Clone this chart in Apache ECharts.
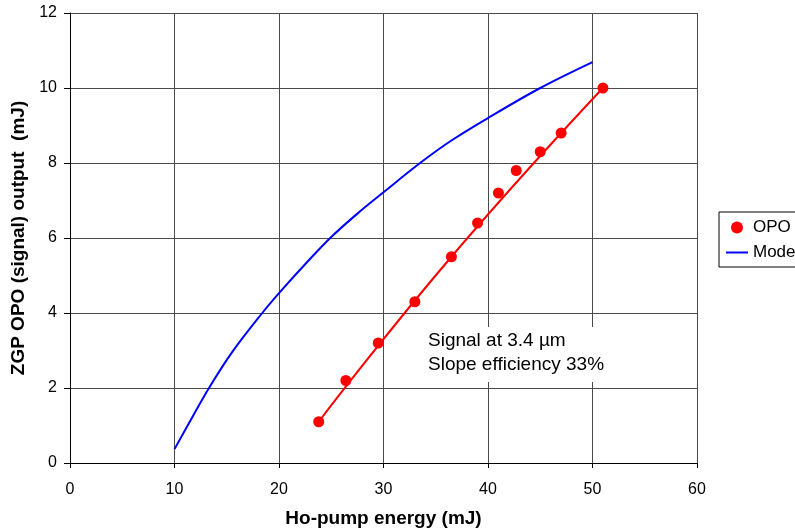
<!DOCTYPE html>
<html>
<head>
<meta charset="utf-8">
<script src="https://cdn.jsdelivr.net/npm/echarts@6/dist/echarts.min.js"></script>
<style>
html,body{margin:0;padding:0;background:#fff;}
#chart{width:795px;height:529px;}
</style>
</head>
<body>
<div id="chart"></div>
<script>
// Measured OPO data
const energyOPO = [23.8, 26.4, 29.5, 33.0, 36.5, 39.0, 41.0, 42.7, 45.0, 47.0, 51.0];
const outputOPO = [1.1, 2.2, 3.2, 4.3, 5.5, 6.4, 7.2, 7.8, 8.3, 8.8, 10.0];
// Fit line through the OPO data (slope efficiency ~33%)
const fitX = [23.8, 36.5, 51.0];
const fitY = [1.1, 5.5, 10.0];
// Model curve
const modelX = [10, 11.5, 13.3, 15.5, 18.4, 20, 22.5, 24.9, 27.5, 30, 33.5, 36.5, 40, 45, 50];
const modelY = [0.37, 1.12, 2.0, 2.95, 4.0, 4.53, 5.3, 6.0, 6.65, 7.22, 8.0, 8.6, 9.2, 10.0, 10.69];
// Axes
const xTicks = [0, 10, 20, 30, 40, 50, 60];
const yTicks = [0, 2, 4, 6, 8, 10, 12];
const xTitle = 'Ho-pump energy (mJ)';
const yTitle = 'ZGP OPO (signal) output  (mJ)';
const noteLines = ['Signal at 3.4 \u00b5m', 'Slope efficiency 33%'];

const FONT = "'Liberation Sans', Arial, sans-serif";
const zip = (a, b) => a.map((v, i) => [v, b[i]]);

const chart = echarts.init(document.getElementById('chart'), null, {renderer: 'canvas'});
chart.setOption({
  animation: false,
  backgroundColor: '#fff',
  textStyle: {fontFamily: FONT, color: '#000'},
  grid: {left: 70, right: 98, top: 13, bottom: 66, containLabel: false, outerBoundsMode: 'none'},
  xAxis: {
    type: 'value', min: xTicks[0], max: xTicks[xTicks.length - 1], interval: 10,
    name: xTitle, nameLocation: 'middle', nameGap: 46,
    nameTextStyle: {fontFamily: FONT, fontSize: 19, fontWeight: 'bold', color: '#000'},
    axisLine: {show: true, onZero: false, lineStyle: {color: '#000', width: 1}},
    axisTick: {show: true, length: 5, lineStyle: {color: '#000'}},
    axisLabel: {fontFamily: FONT, fontSize: 16, color: '#000', margin: 19},
    splitLine: {show: true, lineStyle: {color: '#4a4a4a', width: 1}}
  },
  yAxis: {
    type: 'value', min: yTicks[0], max: yTicks[yTicks.length - 1], interval: 2,
    name: yTitle, nameLocation: 'middle', nameGap: 40, nameRotate: 90,
    nameTextStyle: {fontFamily: FONT, fontSize: 19, fontWeight: 'bold', color: '#000'},
    axisLine: {show: true, onZero: false, lineStyle: {color: '#000', width: 1}},
    axisTick: {show: true, length: 6, lineStyle: {color: '#000'}},
    axisLabel: {fontFamily: FONT, fontSize: 16, color: '#000', margin: 13},
    splitLine: {show: true, lineStyle: {color: '#4a4a4a', width: 1}}
  },
  legend: {
    orient: 'vertical', left: 719, top: 212,
    padding: [7, 60, 6, 7],
    itemWidth: 22, itemHeight: 12, itemGap: 8,
    borderColor: '#000', borderWidth: 1, backgroundColor: '#fff',
    textStyle: {fontFamily: FONT, fontSize: 17, color: '#000'},
    data: [
      {name: 'OPO', icon: 'circle'},
      {name: 'Model', icon: 'path://M0,0H22V2H0Z'}
    ]
  },
  series: [
    {
      name: 'Model', type: 'line', data: zip(modelX, modelY), smooth: 0.35,
      showSymbol: false, symbol: 'none',
      lineStyle: {color: '#0000ff', width: 2}, itemStyle: {color: '#0000ff'}, z: 2
    },
    {
      name: 'Fit', type: 'line', data: zip(fitX, fitY), smooth: true,
      showSymbol: false, symbol: 'none',
      lineStyle: {color: '#ff0000', width: 2}, itemStyle: {color: '#ff0000'}, z: 3
    },
    {
      name: 'OPO', type: 'scatter', data: zip(energyOPO, outputOPO),
      symbol: 'circle', symbolSize: 11,
      itemStyle: {color: '#ff0000', opacity: 1}, z: 4
    }
  ],
  graphic: [
    {type: 'rect', left: 423, top: 327, shape: {width: 189, height: 55}, style: {fill: '#fff'}, z: 10},
    {type: 'text', left: 428, top: 329, z: 11,
     style: {text: noteLines.join('\n'), fontFamily: FONT, fontSize: 19, lineHeight: 24, fill: '#000'}}
  ]
});
</script>
</body>
</html>
